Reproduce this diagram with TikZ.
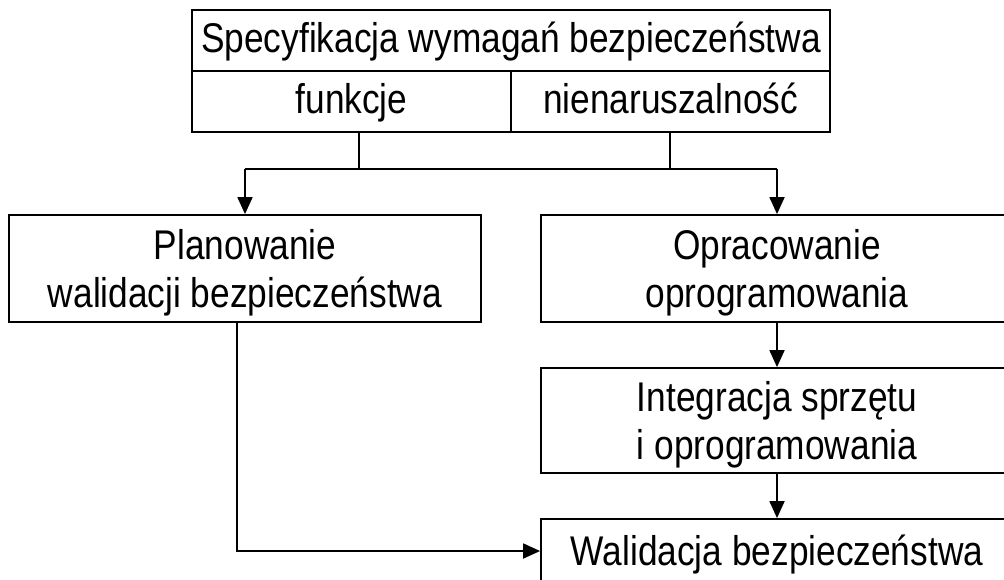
\documentclass[tikz,border=0pt]{standalone}
\usepackage{fontspec}
\setmainfont{Liberation Sans}[FakeStretch=0.85]
\usetikzlibrary{arrows.meta}
\begin{document}
\begin{tikzpicture}[x=1pt,y=-1pt,line width=1.8pt,
  box/.style={draw, rectangle, inner sep=0pt, align=center,
    text height=31pt, text depth=8pt,
    font=\fontsize{41.5}{48}\selectfont},
  twoline/.style={text height=86pt, text depth=8pt},
  arr/.style={-{Triangle[width=15pt,length=17pt]}}]
\useasboundingbox (0,0) rectangle (1004,579);
\clip (0,0) rectangle (1004,579);
\node[box, minimum width=638pt, minimum height=61pt] (spec) at (511,40.5) {Specyfikacja wymagań bezpieczeństwa};
\node[box, minimum width=319pt, minimum height=61pt] (funk) at (351.5,101.5) {funkcje};
\node[box, minimum width=319pt, minimum height=61pt] (nien) at (670.5,101.5) {nienaruszalność};
\node[box, twoline, minimum width=472pt, minimum height=107pt] (plan) at (245,268.5) {Planowanie\\walidacji bezpieczeństwa};
\node[box, twoline, minimum width=472pt, minimum height=107pt] (opr) at (777,268.5) {Opracowanie\\oprogramowania};
\node[box, twoline, minimum width=472pt, minimum height=105pt] (integ) at (777,420.5) {Integracja sprzętu\\i oprogramowania};
\node[box, minimum width=472pt, minimum height=70pt] (wal) at (777,554) {Walidacja bezpieczeństwa};
\coordinate (h1) at (245,169);
\coordinate (h2) at (777,169);
\draw (h1) -- (h2);
\draw ([xshift=7.5pt]funk.south) -- ([xshift=7.5pt]funk.south |- h1);
\draw ([xshift=-0.5pt]nien.south) -- ([xshift=-0.5pt]nien.south |- h2);
\draw[arr] (h1) -- (plan.north);
\draw[arr] (h2) -- (opr.north);
\draw[arr] (opr.south) -- (integ.north);
\draw[arr] (integ.south) -- (wal.north);
\draw[arr] ([xshift=-8pt]plan.south) |- ([yshift=3pt]wal.west);
\end{tikzpicture}
\end{document}
